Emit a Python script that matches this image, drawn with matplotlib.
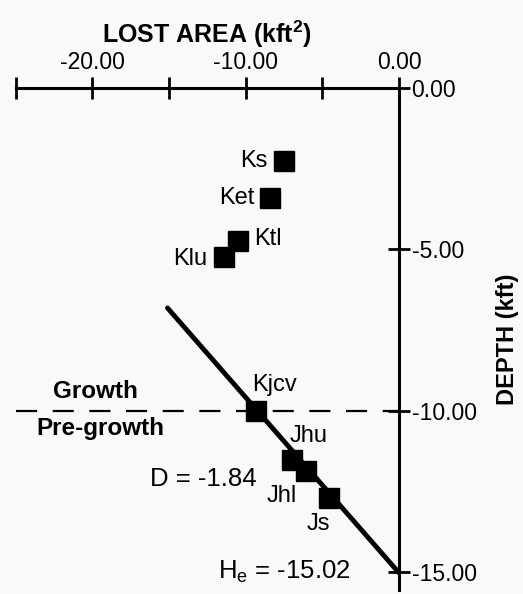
import numpy as np
import matplotlib
matplotlib.use("Agg")
import matplotlib.pyplot as plt

plt.rcParams['font.family'] = ['Liberation Sans', 'DejaVu Sans']
plt.rcParams['mathtext.fontset'] = 'custom'
plt.rcParams['mathtext.rm'] = 'Liberation Sans'
plt.rcParams['mathtext.bf'] = 'Liberation Sans:bold'

# Data
units = ['Ks', 'Ket', 'Ktl', 'Klu', 'Kjcv', 'Jhu', 'Jhl', 'Js']
lost_area = [-7.5, -8.4, -10.5, -11.4, -9.3, -6.95, -6.1, -4.6]
depth = [-2.25, -3.4, -4.73, -5.23, -10.0, -11.52, -11.85, -12.69]

# label offsets (pixels) and alignment
label_offsets = [(-17, 0), (-16, 0), (16, 2), (-17, -2), (18, 26), (16, 24), (-24, -25), (-10, -26)]
label_ha = ['right', 'right', 'left', 'right', 'center', 'center', 'center', 'center']

# Fit line parameters
D = -1.84
He = -15.02
fit_x = [-15.1, 0.0]

growth_depth = -10.0

fig = plt.figure(figsize=(5.23, 5.94), dpi=100, facecolor='#f9f9f9')
ax = fig.add_axes([0.030, 0.0067, 0.733, 0.8452])
ax.set_facecolor('#f9f9f9')

ax.set_xlim(-25, 0)
ax.set_ylim(-15.55, 0)

# growth / pre-growth boundary
ax.plot([-25, 0], [growth_depth, growth_depth], color='black', lw=1.6,
        dashes=(9.5, 7), zorder=2)

# fitted line
fx = np.array(fit_x)
ax.plot(fx, He + fx / D, color='black', lw=3.5, solid_capstyle='round', zorder=3)

# points
ax.plot(lost_area, depth, linestyle='none', marker='s', markersize=15,
        color='black', zorder=4)

for name, x, y, off, ha in zip(units, lost_area, depth, label_offsets, label_ha):
    ax.annotate(name, (x, y), xytext=off, textcoords='offset pixels',
                ha=ha, va='center', fontsize=17)

ax.text(-19.8, -9.4, 'Growth', ha='center', va='center', fontsize=17.5, fontweight='bold')
ax.text(-19.5, -10.54, 'Pre-growth', ha='center', va='center', fontsize=17.5, fontweight='bold')
ax.text(-12.75, -12.1, 'D = -1.84', ha='center', va='center', fontsize=18.5)
ax.text(-7.48, -14.97, r'H$_\mathrm{e}$ = -15.02', ha='center', va='center', fontsize=18.5)

# spines
for s in ['left', 'bottom']:
    ax.spines[s].set_visible(False)
ax.spines['top'].set_linewidth(2.2)
ax.spines['right'].set_linewidth(2.2)
ax.spines['top'].set_position(('data', 0))

ax.xaxis.set_ticks_position('top')
ax.xaxis.set_label_position('top')
ax.yaxis.set_ticks_position('right')
ax.yaxis.set_label_position('right')

ax.set_xticks([-25, -20, -15, -10, -5, 0])
ax.set_xticklabels(['', '-20.00', '', '-10.00', '', '0.00'])
ax.set_yticks([0, -5, -10, -15])
ax.set_yticklabels(['0.00', '-5.00', '-10.00', '-15.00'])
ax.tick_params(axis='both', direction='inout', length=16, width=2.0,
               labelsize=16.5, colors='black')
ax.tick_params(axis='x', pad=2)
ax.tick_params(axis='y', pad=1)

ax.set_xlabel(r'LOST AREA (kft$^{\mathbf{2}}$)', fontsize=18, fontweight='bold', labelpad=6)
ax.set_ylabel('DEPTH (kft)', fontsize=17, fontweight='bold', labelpad=14)

fig.savefig('out.png', dpi=100, facecolor=fig.get_facecolor())
